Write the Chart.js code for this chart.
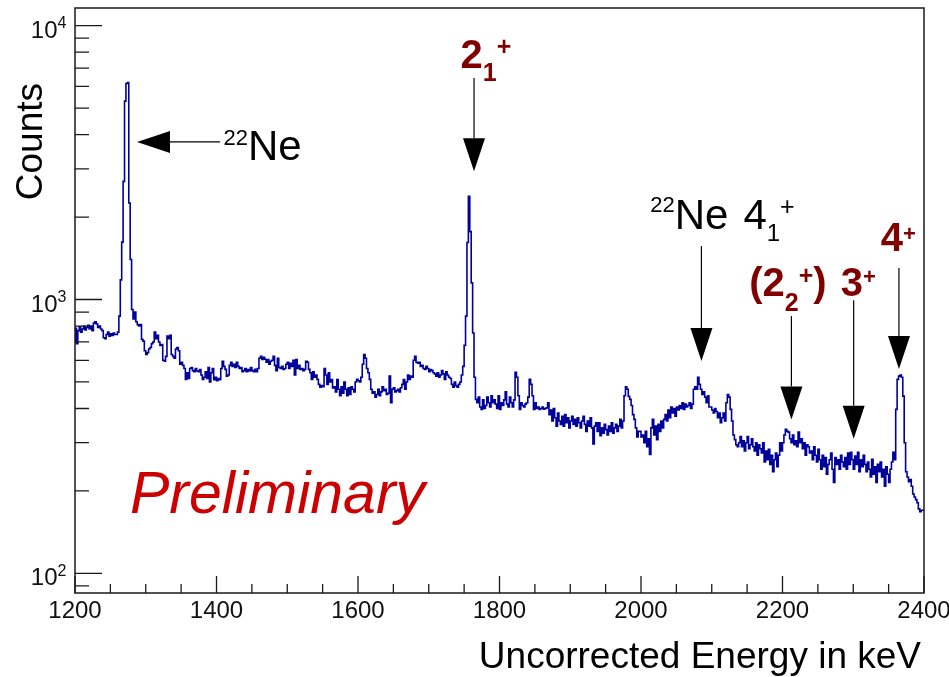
<!DOCTYPE html>
<html>
<head>
<meta charset="utf-8">
<script src="https://cdn.jsdelivr.net/npm/chart.js@4/dist/chart.umd.min.js"></script>
<style>
  html, body { margin: 0; padding: 0; background: #ffffff; }
  canvas { display: block; }
</style>
</head>
<body>
<canvas id="spectrum" width="949" height="677"></canvas>
<script>
// Gamma-ray spectrum, 2 keV bins starting at 1200 keV
const binStart = 1200;
const binWidth = 2;
const counts = [
  // 1200
  700, 785, 690, 770, 795, 760, 780, 800, 775, 790,
  805, 780, 800, 770, 820, 830, 815, 790, 800, 780,
  770, 725, 720, 745, 760, 735, 750, 740, 755, 745,
  745, 760, 870, 1180, 1620, 2700, 5300, 6150, 6200, 2250,
  1400, 920, 850, 900, 830, 810, 800, 810, 715, 705,
  // 1300
  650, 630, 640, 660, 668, 690, 700, 760, 720, 740,
  700, 680, 685, 600, 595, 620, 735, 720, 740, 630,
  620, 610, 660, 668, 650, 580, 590, 575, 560, 511,
  540, 515, 560, 565, 550, 545, 560, 548, 545, 555,
  530, 511, 520, 545, 515, 565, 500, 540, 560, 510,
  // 1400
  520, 505, 515, 510, 560, 595, 570, 556, 525, 530,
  575, 590, 570, 580, 565, 590, 570, 560, 565, 545,
  550, 560, 545, 555, 548, 565, 550, 545, 556, 545,
  560, 610, 620, 604, 615, 605, 590, 604, 580, 595,
  600, 620, 575, 550, 610, 565, 560, 570, 555, 560,
  // 1500
  580, 590, 560, 585, 570, 600, 530, 604, 560, 575,
  556, 560, 550, 556, 595, 590, 556, 540, 511, 545,
  520, 530, 511, 490, 478, 485, 480, 560, 530, 490,
  540, 500, 510, 475, 480, 460, 510, 470, 445, 480,
  455, 500, 470, 445, 476, 450, 480, 470, 460, 500,
  // 1600
  511, 505, 500, 520, 580, 630, 610, 560, 540, 511,
  470, 455, 460, 440, 450, 470, 445, 460, 480, 465,
  470, 450, 455, 525, 420, 470, 476, 460, 465, 470,
  460, 476, 490, 510, 470, 500, 530, 511, 525, 520,
  600, 620, 590, 585, 590, 570, 575, 560, 556, 570,
  // 1700
  560, 545, 555, 550, 540, 535, 525, 540, 520, 530,
  550, 535, 511, 545, 530, 520, 515, 490, 478, 500,
  485, 478, 490, 500, 530, 570, 680, 870, 1615, 2380,
  1770, 1150, 755, 520, 432, 420, 440, 405, 397, 430,
  400, 410, 440, 420, 405, 445, 420, 430, 415, 400,
  // 1800
  445, 397, 420, 410, 430, 460, 415, 405, 440, 420,
  405, 430, 542, 520, 445, 397, 420, 410, 405, 415,
  420, 440, 511, 490, 445, 397, 420, 400, 405, 397,
  400, 405, 398, 400, 402, 420, 380, 395, 360, 400,
  370, 345, 385, 360, 350, 375, 345, 380, 355, 370,
  // 1900
  340, 360, 375, 350, 365, 345, 370, 355, 340, 360,
  375, 350, 330, 360, 345, 370, 340, 297, 345, 355,
  330, 355, 318, 340, 325, 350, 335, 320, 345, 330,
  355, 325, 340, 350, 330, 345, 365, 340, 360, 445,
  480, 470, 443, 432, 410, 380, 365, 340, 315, 330,
  // 2000
  330, 315, 320, 300, 330, 290, 310, 272, 340, 365,
  320, 345, 308, 350, 330, 360, 340, 365, 380, 360,
  395, 370, 405, 385, 400, 375, 405, 395, 410, 400,
  420, 397, 415, 405, 410, 420, 400, 415, 470, 480,
  470, 520, 490, 470, 450, 460, 440, 420, 445, 405,
  // 2100
  405, 395, 385, 400, 390, 370, 385, 355, 370, 385,
  360, 420, 450, 440, 397, 360, 320, 308, 295, 290,
  300, 316, 290, 305, 280, 300, 316, 285, 295, 310,
  290, 280, 300, 270, 295, 285, 275, 300, 255, 280,
  260, 284, 250, 270, 235, 260, 275, 245, 270, 300,
  // 2200
  280, 300, 320, 336, 330, 328, 310, 300, 320, 295,
  305, 290, 328, 300, 310, 285, 300, 270, 295, 290,
  275, 280, 260, 290, 270, 255, 284, 260, 240, 270,
  245, 265, 230, 250, 260, 275, 240, 215, 265, 250,
  260, 240, 270, 255, 245, 265, 240, 275, 250, 277,
  // 2300
  260, 240, 268, 250, 277, 235, 260, 245, 270, 250,
  235, 255, 240, 225, 261, 230, 245, 215, 250, 235,
  255, 225, 240, 208, 245, 230, 215, 240, 255, 277,
  260, 397, 511, 525, 530, 520, 444, 300, 235, 225,
  216, 220, 208, 195, 190, 186, 181, 172, 168, 170
];

// Axis ranges and ticks
const xRange = [1200, 2400];
const yRange = [84.8, 11600];
const xMajorTicks = [1200, 1400, 1600, 1800, 2000, 2200, 2400];
const xTickLabels = ['1200', '1400', '1600', '1800', '2000', '2200', '2400'];
const xMinorTicks = [1250, 1300, 1350, 1450, 1500, 1550, 1650, 1700, 1750,
                     1850, 1900, 1950, 2050, 2100, 2150, 2250, 2300, 2350];
const yMajorTicks = [100, 1000, 10000];
const yTickExponents = ['2', '3', '4'];
const yMinorTicks = [90, 200, 300, 400, 500, 600, 700, 800, 900,
                     2000, 3000, 4000, 5000, 6000, 7000, 8000, 9000];

// Peak markers: arrow tip given in (energy, counts)
const FONT = '"Liberation Sans", Arial, Helvetica, sans-serif';
const RED = '#800000';
const markers = [
  { energy: 1287.6, counts: 3763, dir: 'left', len: 83, color: '#000',
    labelDx: 86.5, labelDy: 17.7,
    parts: [{ t: '22', size: 22, dy: -15 }, { t: 'Ne', size: 42 }] },
  { energy: 1764, counts: 2938, dir: 'down', len: 93.4, color: RED,
    labelDx: -13.5, labelDy: -10,
    parts: [{ t: '2', size: 40, bold: true }, { t: '1', size: 25, bold: true, dy: 13.4 },
            { t: '+', size: 25, bold: true, dy: -13 }] },
  { energy: 2085.4, counts: 596, dir: 'down', len: 115, color: '#000',
    labelDx: -51.2, labelDy: -16.7,
    parts: [{ t: '22', size: 22, dy: -17 }, { t: 'Ne', size: 42 }, { gap: 15 },
            { t: '4', size: 42 }, { t: '1', size: 24, dy: 11.7 }, { t: '+', size: 25, dy: -14 }] },
  { energy: 2212.6, counts: 365, dir: 'down', len: 103.3, color: RED,
    labelDx: -42.2, labelDy: -20,
    parts: [{ t: '(', size: 40, bold: true }, { t: '2', size: 40, bold: true },
            { t: '2', size: 25, bold: true, dy: 15 }, { t: '+', size: 25, bold: true, dy: -11.7 },
            { t: ')', size: 40, bold: true }] },
  { energy: 2300.6, counts: 310, dir: 'down', len: 138.6, color: RED,
    labelDx: -13, labelDy: -4,
    parts: [{ t: '3', size: 40, bold: true }, { t: '+', size: 22, bold: true, dy: -12.7 }] },
  { energy: 2364.6, counts: 558, dir: 'down', len: 101, color: RED,
    labelDx: -18.3, labelDy: -16.6,
    parts: [{ t: '4', size: 40, bold: true }, { t: '+', size: 22, bold: true, dy: -10.7 }] }
];

// Histogram drawn as a stepped line through the bin edges
const points = counts.map((c, i) => ({ x: binStart + i * binWidth, y: c }));
points.push({ x: binStart + counts.length * binWidth, y: counts[counts.length - 1] });

function drawParts(ctx, x, y, parts, color) {
  let cx = x;
  ctx.fillStyle = color;
  ctx.textAlign = 'left';
  ctx.textBaseline = 'alphabetic';
  for (const p of parts) {
    if (p.gap) { cx += p.gap; continue; }
    ctx.font = (p.bold ? 'bold ' : '') + p.size + 'px ' + FONT;
    ctx.fillText(p.t, cx, y + (p.dy || 0));
    cx += ctx.measureText(p.t).width;
  }
}

function drawArrow(ctx, tx, ty, dir, len) {
  const head = 33, half = 11;
  ctx.strokeStyle = '#000';
  ctx.fillStyle = '#000';
  ctx.lineWidth = 1.2;
  ctx.beginPath();
  if (dir === 'down') {
    ctx.moveTo(tx, ty - len);
    ctx.lineTo(tx, ty - head);
  } else {
    ctx.moveTo(tx + len, ty);
    ctx.lineTo(tx + head, ty);
  }
  ctx.stroke();
  ctx.beginPath();
  if (dir === 'down') {
    ctx.moveTo(tx, ty);
    ctx.lineTo(tx - half, ty - head);
    ctx.lineTo(tx + half, ty - head);
  } else {
    ctx.moveTo(tx, ty);
    ctx.lineTo(tx + head, ty - half);
    ctx.lineTo(tx + head, ty + half);
  }
  ctx.closePath();
  ctx.fill();
}

const framePlugin = {
  id: 'rootFrame',
  afterDraw(chart) {
    const ctx = chart.ctx;
    const { left, right, top, bottom } = chart.chartArea;
    const xs = chart.scales.x, ys = chart.scales.y;
    ctx.save();

    // frame
    ctx.strokeStyle = '#1a1a1a';
    ctx.lineWidth = 1.5;
    ctx.strokeRect(left, top, right - left, bottom - top);

    // ticks, drawn inward
    ctx.lineWidth = 1.3;
    ctx.beginPath();
    xMajorTicks.forEach(v => { const px = xs.getPixelForValue(v); ctx.moveTo(px, bottom); ctx.lineTo(px, bottom - 17); });
    xMinorTicks.forEach(v => { const px = xs.getPixelForValue(v); ctx.moveTo(px, bottom); ctx.lineTo(px, bottom - 9); });
    yMajorTicks.forEach(v => { const py = ys.getPixelForValue(v); ctx.moveTo(left, py); ctx.lineTo(left + 27, py); });
    yMinorTicks.forEach(v => { const py = ys.getPixelForValue(v); ctx.moveTo(left, py); ctx.lineTo(left + 14, py); });
    ctx.stroke();

    // x tick labels
    ctx.fillStyle = '#111';
    ctx.font = '24px ' + FONT;
    ctx.textAlign = 'center';
    ctx.textBaseline = 'alphabetic';
    xMajorTicks.forEach((v, i) => ctx.fillText(xTickLabels[i], xs.getPixelForValue(v), bottom + 24.5));

    // y tick labels as powers of ten
    yMajorTicks.forEach((v, i) => {
      const py = ys.getPixelForValue(v);
      ctx.font = '24px ' + FONT;
      ctx.textAlign = 'right';
      ctx.fillText('10', 57.5, py + 12);
      ctx.font = '16px ' + FONT;
      ctx.textAlign = 'left';
      ctx.fillText(yTickExponents[i], 57.5, py + 2.5);
    });

    // axis titles
    ctx.fillStyle = '#000';
    ctx.font = '37px ' + FONT;
    ctx.textAlign = 'right';
    ctx.fillText('Uncorrected Energy in keV', 921, 668);
    ctx.save();
    ctx.translate(42, 83);
    ctx.rotate(-Math.PI / 2);
    ctx.fillText('Counts', 0, 0);
    ctx.restore();

    // watermark
    ctx.font = 'italic 59px ' + FONT;
    ctx.fillStyle = '#cc0000';
    ctx.textAlign = 'left';
    ctx.fillText('Preliminary', 130, 513);

    // peak markers
    markers.forEach(m => {
      const tx = xs.getPixelForValue(m.energy);
      const ty = ys.getPixelForValue(m.counts);
      drawArrow(ctx, tx, ty, m.dir, m.len);
      let lx, ly;
      if (m.dir === 'down') { lx = tx + m.labelDx; ly = ty - m.len + m.labelDy; }
      else { lx = tx + m.labelDx; ly = ty + m.labelDy; }
      drawParts(ctx, lx, ly, m.parts, m.color);
    });

    ctx.restore();
  }
};

new Chart(document.getElementById('spectrum'), {
  type: 'line',
  data: {
    datasets: [{
      data: points,
      stepped: 'after',
      borderColor: '#00009a',
      borderWidth: 1.6,
      pointRadius: 0,
      fill: false,
      tension: 0
    }]
  },
  options: {
    responsive: false,
    animation: false,
    devicePixelRatio: 1,
    layout: { padding: { left: 75, right: 25, top: 8, bottom: 84 } },
    plugins: { legend: { display: false }, tooltip: { enabled: false } },
    scales: {
      x: { type: 'linear', min: xRange[0], max: xRange[1], display: false },
      y: { type: 'logarithmic', min: yRange[0], max: yRange[1], display: false }
    }
  },
  plugins: [framePlugin]
});
</script>
</body>
</html>
